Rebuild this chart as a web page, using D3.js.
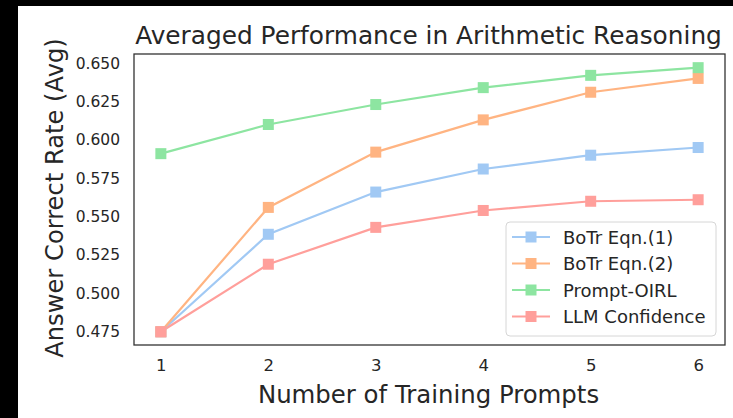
<!DOCTYPE html>
<html>
<head>
<meta charset="utf-8">
<script src="https://cdn.jsdelivr.net/npm/d3@7"></script>
<style>
  body { margin: 0; background: #000; }
  svg { display: block; }
  text { font-family: "DejaVu Sans", sans-serif; fill: #262626; }
</style>
</head>
<body>
<div id="chart"></div>
<script>
// data
let prompts = [1, 2, 3, 4, 5, 6];
let botrEqn1 = [0.475, 0.5385, 0.566, 0.581, 0.590, 0.595];
let botrEqn2 = [0.475, 0.556, 0.592, 0.613, 0.631, 0.640];
let promptOirl = [0.591, 0.610, 0.623, 0.634, 0.642, 0.647];
let llmConfidence = [0.475, 0.519, 0.543, 0.554, 0.560, 0.561];
let yTicks = [0.475, 0.500, 0.525, 0.550, 0.575, 0.600, 0.625, 0.650];

let seriesNames = ["BoTr Eqn.(1)", "BoTr Eqn.(2)", "Prompt-OIRL", "LLM Confidence"];
let seriesValues = [botrEqn1, botrEqn2, promptOirl, llmConfidence];
let colors = ["#a1c9f4", "#ffb482", "#8de5a1", "#ff9f9b"];

let w = 733, h = 418;
let padLeft = 134, padRight = 725, padTop = 54, padBottom = 345;

let viz = d3.select("#chart").append("svg")
    .attr("width", w)
    .attr("height", h);

// white figure area (black strip top and left like the screenshot)
viz.append("rect")
    .attr("x", 18).attr("y", 6)
    .attr("width", w - 18).attr("height", h - 6)
    .attr("fill", "white");

let xScale = d3.scaleLinear().domain([0.75, 6.25]).range([padLeft, padRight]);
let yScale = d3.scaleLinear().domain([0.4664, 0.6559]).range([padBottom, padTop]);

// axes without tick lines
let xAxis = d3.axisBottom(xScale).tickValues(prompts).tickSize(0).tickPadding(14).tickFormat(d3.format("d"));
let xAxisGroup = viz.append("g")
    .attr("transform", "translate(0," + padBottom + ")")
    .call(xAxis);
let yAxis = d3.axisLeft(yScale).tickValues(yTicks).tickSize(0).tickPadding(14).tickFormat(d3.format(".3f"));
let yAxisGroup = viz.append("g")
    .attr("transform", "translate(" + padLeft + ",0)")
    .call(yAxis);

viz.selectAll(".domain").remove();
viz.selectAll(".tick text")
    .attr("font-size", "15.5px")
    .attr("font-family", "DejaVu Sans, sans-serif")
    .attr("fill", "#262626");
xAxisGroup.selectAll(".tick text").attr("font-size", "16.5px");

// lines and markers
let line = d3.line()
    .x(function(d, i){ return xScale(prompts[i]); })
    .y(function(d){ return yScale(d); });

let graphgroup = viz.append("g");
seriesValues.forEach(function(vals, s){
  graphgroup.append("path")
      .datum(vals)
      .attr("d", line)
      .attr("fill", "none")
      .attr("stroke", colors[s])
      .attr("stroke-width", 2.2);
});
seriesValues.forEach(function(vals, s){
  graphgroup.selectAll(".m" + s)
    .data(vals)
    .enter()
    .append("rect")
      .attr("class", "m" + s)
      .attr("x", function(d, i){ return xScale(prompts[i]) - 5.5; })
      .attr("y", function(d){ return yScale(d) - 5.5; })
      .attr("width", 11)
      .attr("height", 11)
      .attr("fill", colors[s]);
});

// frame
viz.append("rect")
    .attr("x", padLeft).attr("y", padTop)
    .attr("width", padRight - padLeft).attr("height", padBottom - padTop)
    .attr("fill", "none")
    .attr("stroke", "#333")
    .attr("stroke-width", 1.3);

// title and axis labels
viz.append("text")
    .attr("x", (padLeft + padRight) / 2 - 1)
    .attr("y", 44)
    .attr("text-anchor", "middle")
    .attr("font-size", "24.8px")
    .text("Averaged Performance in Arithmetic Reasoning");

viz.append("text")
    .attr("x", (padLeft + padRight) / 2 - 1)
    .attr("y", 403)
    .attr("text-anchor", "middle")
    .attr("font-size", "24.4px")
    .text("Number of Training Prompts");

viz.append("text")
    .attr("transform", "translate(63,198) rotate(-90)")
    .attr("text-anchor", "middle")
    .attr("font-size", "24.2px")
    .text("Answer Correct Rate (Avg)");

// legend
let legend = viz.append("g").attr("transform", "translate(506,222)");
legend.append("rect")
    .attr("width", 210).attr("height", 114)
    .attr("rx", 4)
    .attr("fill", "white")
    .attr("fill-opacity", 0.8)
    .attr("stroke", "#d6d6d6");
let items = legend.selectAll(".item")
  .data(seriesNames)
  .enter()
  .append("g")
    .attr("class", "item")
    .attr("transform", function(d, i){ return "translate(0," + (15 + i * 26.5) + ")"; });
items.append("line")
    .attr("x1", 6).attr("x2", 44)
    .attr("stroke", function(d, i){ return colors[i]; })
    .attr("stroke-width", 2.2);
items.append("rect")
    .attr("x", 19.5).attr("y", -5.5)
    .attr("width", 11).attr("height", 11)
    .attr("fill", function(d, i){ return colors[i]; });
items.append("text")
    .attr("x", 57)
    .attr("y", 6.5)
    .attr("font-size", "18px")
    .text(function(d){ return d; });
</script>
</body>
</html>
